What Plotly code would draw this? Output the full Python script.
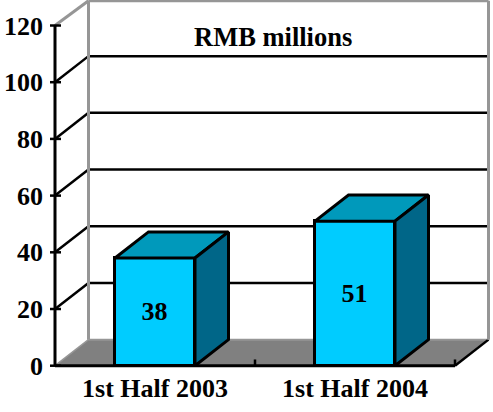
import plotly.graph_objects as go

categories = ["1st Half 2003", "1st Half 2004"]
values = [38, 51]
y_ticks = [0, 20, 40, 60, 80, 100, 120]
y_max = 120
title_text = "RMB millions"

DX, DY = 0.1675, 9.2  # 3D depth offset in axis units
BW = 0.4
XL, XR = -0.5, 1.5
FONT = "Liberation Serif"
BLACK, GREY = "#000000", "#969696"
FRONT, TOP, SIDE = "#00CCFF", "#0099BB", "#006688"

def seg(x0, y0, x1, y1, color=BLACK, width=2.5):
    return dict(type="line", layer="below", xref="x", yref="y", x0=x0, y0=y0, x1=x1, y1=y1,
                line=dict(color=color, width=width))

shapes = [dict(type="path", layer="below", xref="x", yref="y",
               path=f"M{XL},0 L{XL+DX},{DY} L{XR+DX},{DY} L{XR},0 Z",
               fillcolor="#808080", line=dict(width=0))]
shapes.append(seg(XL, 0, XL+DX, DY, GREY, 1.5))
shapes.append(seg(XL+DX, DY, XR+DX, DY, GREY, 2))
shapes.append(seg(XR, 0, XR+DX, DY, BLACK, 2.5))
for v in y_ticks[1:-1]:
    shapes.append(seg(XL, v, XL+DX, v+DY))
    shapes.append(seg(XL+DX, v+DY, XR+DX, v+DY))
top = y_max + 8.75
shapes += [seg(XL, y_max, XL+DX, top, GREY, 3), seg(XL+DX, top, XR+DX, top, GREY, 3),
           seg(XL+DX, DY, XL+DX, top, GREY, 3), seg(XR+DX, DY, XR+DX, top, GREY, 3)]
# axis lines and tick stubs
for v in y_ticks:
    shapes.append(seg(XL-0.03, v, XL+0.03, v))
for x in [XL + 1, XR]:
    shapes.append(seg(x, 0, x, 2.2))
shapes.append(seg(XL, 0, XR, 0, BLACK, 3))
shapes.append(seg(XL, 0, XL, y_max, BLACK, 3))

fig = go.Figure()
xs = list(range(len(categories)))
fig.add_trace(go.Bar(x=xs, y=values, width=BW, text=[str(v) for v in values],
                     textposition="inside", insidetextanchor="middle", textangle=0,
                     constraintext="none",
                     textfont=dict(family=FONT, size=26, color="black", weight="bold"),
                     marker=dict(color=FRONT, line=dict(color=BLACK, width=3)),
                     showlegend=False, hoverinfo="skip"))
for x, v in zip(xs, values):
    l, r = x - BW/2, x + BW/2
    fig.add_trace(go.Scatter(x=[l, l+DX, r+DX, r, l], y=[v, v+DY, v+DY, v, v], mode="lines",
                             fill="toself", fillcolor=TOP, line=dict(color=BLACK, width=3),
                             showlegend=False, hoverinfo="skip"))
    fig.add_trace(go.Scatter(x=[r, r+DX, r+DX, r, r], y=[v, v+DY, DY, 0, v], mode="lines",
                             fill="toself", fillcolor=SIDE, line=dict(color=BLACK, width=3),
                             showlegend=False, hoverinfo="skip"))

fig.update_layout(
    width=493, height=412, autosize=False,
    margin=dict(l=50, r=0, t=0, b=43),
    paper_bgcolor="white", plot_bgcolor="white", bargap=0,
    shapes=shapes, showlegend=False,
    font=dict(family=FONT, color="black"),
    annotations=[dict(text=f"<b>{title_text}</b>", xref="x", yref="y", x=0.59, y=116,
                      showarrow=False, font=dict(family=FONT, size=26.5, color="black"))],
    xaxis=dict(range=[XL - 0.025, XL - 0.025 + 443/200], tickmode="array", tickvals=xs, ticktext=categories,
               showgrid=False, zeroline=False, showline=False, ticks="", ticklabelstandoff=1,
               tickfont=dict(family=FONT, size=26, color="black", weight="bold")),
    yaxis=dict(range=[-1.16, 129.0], tickmode="array", tickvals=y_ticks, showgrid=False, zeroline=False,
               showline=False, ticks="", ticklabelstandoff=6,
               tickfont=dict(family=FONT, size=26, color="black", weight="bold")),
)
fig.write_html("out.html", config={"displayModeBar": False},
               post_script="document.body.style.margin='0';document.documentElement.style.overflow='hidden';")
